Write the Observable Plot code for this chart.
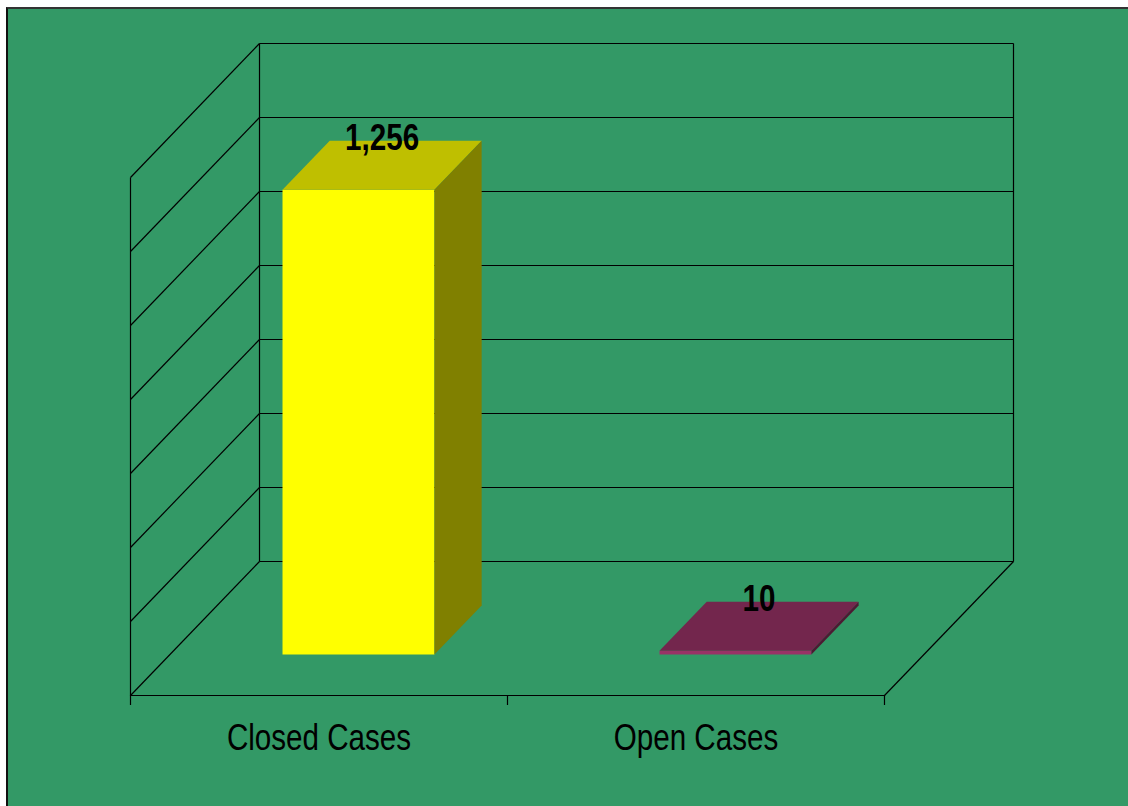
<!DOCTYPE html>
<html>
<head>
<meta charset="utf-8">
<script src="https://cdn.jsdelivr.net/npm/d3@7"></script>
<script src="https://cdn.jsdelivr.net/npm/@observablehq/plot@0.6"></script>
<style>
  html, body { margin: 0; padding: 0; background: #ffffff; width: 1128px; height: 806px; overflow: hidden; }
  #panel { position: absolute; left: 6px; top: 7px; right: 0; bottom: 0; background: #339966;
           border-left: 2px solid #111; border-top: 2px solid #333; }
  #chart { position: absolute; left: 0; top: 0; }
</style>
</head>
<body>
<div id="panel"></div>
<div id="chart"></div>
<script>
// ---- data ----
const categories = ["Closed Cases", "Open Cases"];
const values = [1256, 10];
const valueLabels = ["1,256", "10"];
const frontColors = ["#FFFF00", "#993366"];
const topColors = ["#BFBF00", "#73264D"];
const sideColors = ["#808000", "#4D1A33"];
const gridValues = [0, 200, 400, 600, 800, 1000, 1200, 1400];

// ---- oblique projection (data units) ----
const vMax = 1400;
const DX = 0.3422;   // category units shifted per full depth
const DV = 362.2;    // value units shifted per full depth
const nCat = categories.length;
const barW = 0.403;
const z0 = 0.306, z1 = 0.672;
const proj = (u, v, z) => ({x: u + z * DX, y: v + z * DV});

// faces
const faces = [];
values.forEach((val, i) => {
  const a = i + 0.5 - barW / 2, b = i + 0.5 + barW / 2;
  const poly = (id, fill, pts) => pts.forEach(([u, v, z], k) => faces.push({id, fill, k, ...proj(u, v, z)}));
  poly(`front${i}`, frontColors[i], [[a, 0, z0], [b, 0, z0], [b, val, z0], [a, val, z0]]);
  poly(`top${i}`, topColors[i], [[a, val, z0], [b, val, z0], [b, val, z1], [a, val, z1]]);
  poly(`side${i}`, sideColors[i], [[b, 0, z0], [b, 0, z1], [b, val, z1], [b, val, z0]]);
});

// walls / grid segments
const segs = [];
const seg = (p, q) => { const A = proj(...p), B = proj(...q); segs.push({x1: A.x, y1: A.y, x2: B.x, y2: B.y}); };
gridValues.forEach(v => {
  seg([0, v, 1], [nCat, v, 1]);   // back wall
  seg([0, v, 0], [0, v, 1]);      // side wall
});
seg([0, 0, 0], [0, vMax, 0]);
seg([0, 0, 1], [0, vMax, 1]);
seg([nCat, 0, 1], [nCat, vMax, 1]);
seg([0, 0, 0], [nCat, 0, 0]);
seg([nCat, 0, 0], [nCat, 0, 1]);

const labels = values.map((val, i) => ({label: valueLabels[i], ...proj(i + 0.5, val, (z0 + z1) / 2)}));

const font = "'Liberation Sans', Arial, sans-serif";

const plot = Plot.plot({
  width: 1128,
  height: 806,
  marginLeft: 130,
  marginRight: 115,
  marginTop: 43,
  marginBottom: 111,
  style: {background: "transparent", fontFamily: font, color: "#000"},
  x: {domain: [0, nCat + DX]},
  y: {domain: [0, vMax + DV], axis: null},
  color: {type: "identity"},
  marks: [
    Plot.link(segs, {x1: "x1", y1: "y1", x2: "x2", y2: "y2", stroke: "#000", strokeWidth: 1.2}),
    Plot.line(faces, {x: "x", y: "y", z: "id", fill: "fill", stroke: "none", curve: "linear-closed"}),
    Plot.axisX({ticks: d3.range(nCat + 1), tickSize: 10, tickFormat: () => "", stroke: "#000", strokeWidth: 1.2}),
    Plot.axisX({ticks: categories.map((c, i) => i + 0.5), tickSize: 0, tickPadding: 28,
                tickFormat: d => categories[Math.floor(d)], fontSize: 37, fill: "#000"}),
    Plot.text(labels, {x: "x", y: "y", text: "label", dy: -27, fontSize: 37, fontWeight: "bold", fill: "#000"})
  ]
});
document.getElementById("chart").appendChild(plot);

// condensed look of the original typeface: squeeze each label horizontally about its own centre
d3.select(plot).selectAll("text").each(function() {
  if (!this.textContent.trim()) return;
  const bb = this.getBBox();
  const cx = bb.x + bb.width / 2;
  const t = this.getAttribute("transform") || "";
  this.setAttribute("transform", `${t} translate(${cx},0) scale(0.8,1) translate(${-cx},0)`);
});
</script>
</body>
</html>
